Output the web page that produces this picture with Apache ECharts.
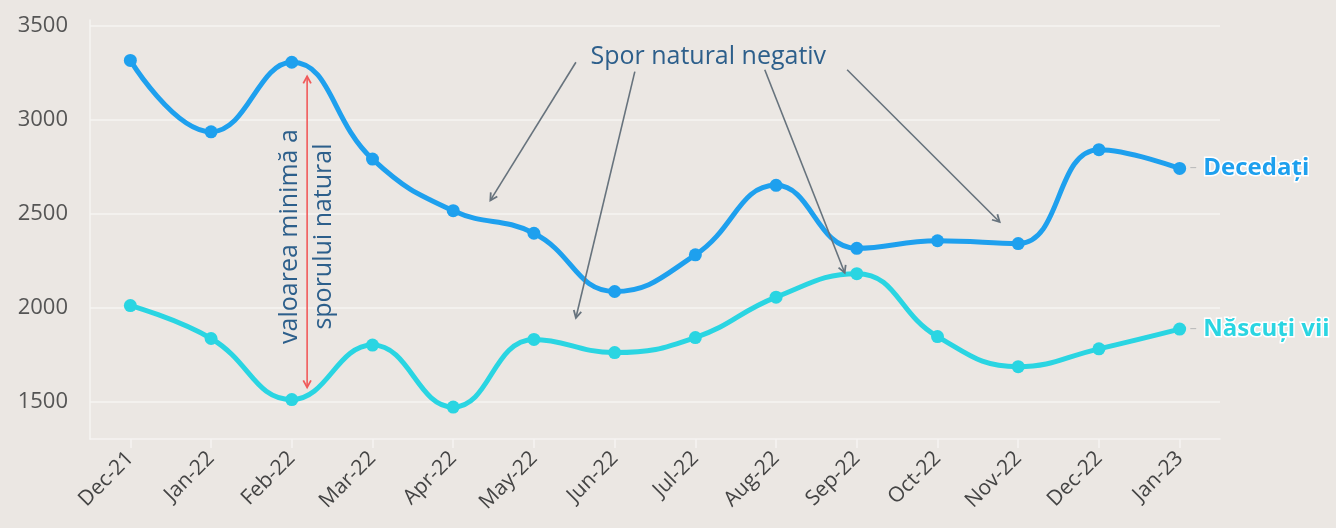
<!DOCTYPE html>
<html>
<head>
<meta charset="utf-8">
<script src="https://cdn.jsdelivr.net/npm/echarts@6/dist/echarts.min.js"></script>
<style>
html, body { margin: 0; padding: 0; background: #ebe7e3; }
#chart { width: 1336px; height: 528px; }
</style>
</head>
<body>
<div id="chart"></div>
<script>
var months = ['Dec-21', 'Jan-22', 'Feb-22', 'Mar-22', 'Apr-22', 'May-22', 'Jun-22',
	'Jul-22', 'Aug-22', 'Sep-22', 'Oct-22', 'Nov-22', 'Dec-22', 'Jan-23'];
var decedati = [3315, 2935, 3305, 2790, 2515, 2395, 2085, 2280, 2650, 2315, 2355, 2340, 2840, 2740];
var nascuti = [2010, 1835, 1510, 1800, 1470, 1830, 1760, 1840, 2055, 2180, 1845, 1685, 1780, 1885];
var yTicks = [1500, 2000, 2500, 3000, 3500];

// annotation anchors, in data space: [category index, value]
var sporText = [7.16, 3335];
var sporArrows = [
	[[5.52, 3305], [4.46, 2570]],
	[[6.25, 3255], [5.52, 1945]],
	[[7.86, 3265], [8.85, 2185]],
	[[8.88, 3265], [10.77, 2455]]
];
var minGap = [[2.19, 3230], [2.19, 1575]];

var textColor = '#2d5f8b';
var fontFam = "'Open Sans', 'Noto Sans', sans-serif";

var dom = document.getElementById('chart');
var myChart = echarts.init(dom);

var option = {
	backgroundColor: '#ebe7e3',
	animation: false,
	grid: {
		left: 90,
		right: 116,
		top: 20,
		bottom: 89
	},
	xAxis: {
		type: 'category',
		data: months,
		boundaryGap: true,
		axisLine: { show: true, lineStyle: { color: '#f6f4f2', width: 1.5 } },
		axisTick: { show: true, alignWithLabel: true, length: 9, lineStyle: { color: '#f6f4f2', width: 1.5 } },
		axisLabel: {
			rotate: 45,
			margin: 16,
			color: '#444',
			fontSize: 21,
			fontFamily: fontFam
		},
		splitLine: { show: false }
	},
	yAxis: {
		type: 'value',
		min: 1300,
		max: 3530,
		axisLine: { show: true, lineStyle: { color: '#f6f4f2', width: 1.5 } },
		axisTick: { show: false, customValues: yTicks },
		axisLabel: {
			customValues: yTicks,
			formatter: function (v) { return String(v); },
			margin: 22,
			color: '#555',
			fontSize: 22,
			fontFamily: fontFam
		},
		splitLine: { show: true, lineStyle: { color: '#f6f4f2', width: 1.5 } }
	},
	series: [{
		name: 'Decedați',
		type: 'line',
		data: decedati,
		smooth: 0.45,
		symbol: 'circle',
		symbolSize: 13,
		color: '#1ea0ee',
		lineStyle: { width: 5, color: '#1ea0ee' },
		endLabel: {
			show: true,
			distance: 10,
			formatter: '{d|–}  {n|Decedați}',
			rich: {
				d: { color: '#bbb', fontSize: 14, fontFamily: fontFam },
				n: {
					color: '#1ea0ee', fontSize: 24, fontWeight: 'bold', fontFamily: fontFam,
					textBorderColor: '#ffffff', textBorderWidth: 3
				}
			}
		}
	}, {
		name: 'Născuți vii',
		type: 'line',
		data: nascuti,
		smooth: 0.45,
		symbol: 'circle',
		symbolSize: 13,
		color: '#2ad5e2',
		lineStyle: { width: 5, color: '#2ad5e2' },
		endLabel: {
			show: true,
			distance: 10,
			formatter: '{d|–}  {n|Născuți vii}',
			rich: {
				d: { color: '#bbb', fontSize: 14, fontFamily: fontFam },
				n: {
					color: '#2ad5e2', fontSize: 24, fontWeight: 'bold', fontFamily: fontFam,
					textBorderColor: '#ffffff', textBorderWidth: 3
				}
			}
		}
	}]
};
myChart.setOption(option, true);

// annotations, placed through the chart's own scales
// (category axis snaps to whole indices, so interpolate between neighbours)
function px(p) {
	var i0 = Math.floor(p[0]);
	var f = p[0] - i0;
	var a = myChart.convertToPixel({ gridIndex: 0 }, [i0, p[1]]);
	var b = myChart.convertToPixel({ gridIndex: 0 }, [i0 + 1, p[1]]);
	return [a[0] + (b[0] - a[0]) * f, a[1]];
}

function arrowGraphic(a, b, color, heads) {
	var p1 = px(a), p2 = px(b);
	var out = [{
		type: 'line',
		shape: { x1: p1[0], y1: p1[1], x2: p2[0], y2: p2[1] },
		style: { stroke: color, lineWidth: 1.6 },
		z: 100
	}];
	var ends = heads == 2 ? [[p2, p1], [p1, p2]] : [[p2, p1]];
	ends.forEach(function (e) {
		var tip = e[0], from = e[1];
		var ang = Math.atan2(tip[1] - from[1], tip[0] - from[0]);
		var len = 8, spread = 0.5;
		out.push({
			type: 'polyline',
			shape: {
				points: [
					[tip[0] - len * Math.cos(ang - spread), tip[1] - len * Math.sin(ang - spread)],
					[tip[0], tip[1]],
					[tip[0] - len * Math.cos(ang + spread), tip[1] - len * Math.sin(ang + spread)]
				]
			},
			style: { stroke: color, lineWidth: 1.8, fill: null },
			z: 100
		});
	});
	return out;
}

var graphics = [];
sporArrows.forEach(function (ar) {
	graphics = graphics.concat(arrowGraphic(ar[0], ar[1], '#67737d', 1));
});
graphics = graphics.concat(arrowGraphic(minGap[0], minGap[1], '#f05a5a', 2));

var tp = px(sporText);
graphics.push({
	type: 'text',
	x: tp[0],
	y: tp[1],
	style: {
		text: 'Spor natural negativ',
		fill: textColor,
		font: '25px ' + fontFam,
		align: 'center',
		verticalAlign: 'middle'
	},
	z: 100
});

var mg = px([minGap[0][0], (minGap[0][1] + minGap[1][1]) / 2 - 25]);
graphics.push({
	type: 'text',
	x: mg[0],
	y: mg[1],
	rotation: Math.PI / 2,
	style: {
		text: 'valoarea minimă a\nsporului natural',
		fill: textColor,
		font: '25px ' + fontFam,
		lineHeight: 34,
		align: 'center',
		verticalAlign: 'middle'
	},
	z: 100
});

myChart.setOption({ graphic: graphics });
</script>
</body>
</html>
